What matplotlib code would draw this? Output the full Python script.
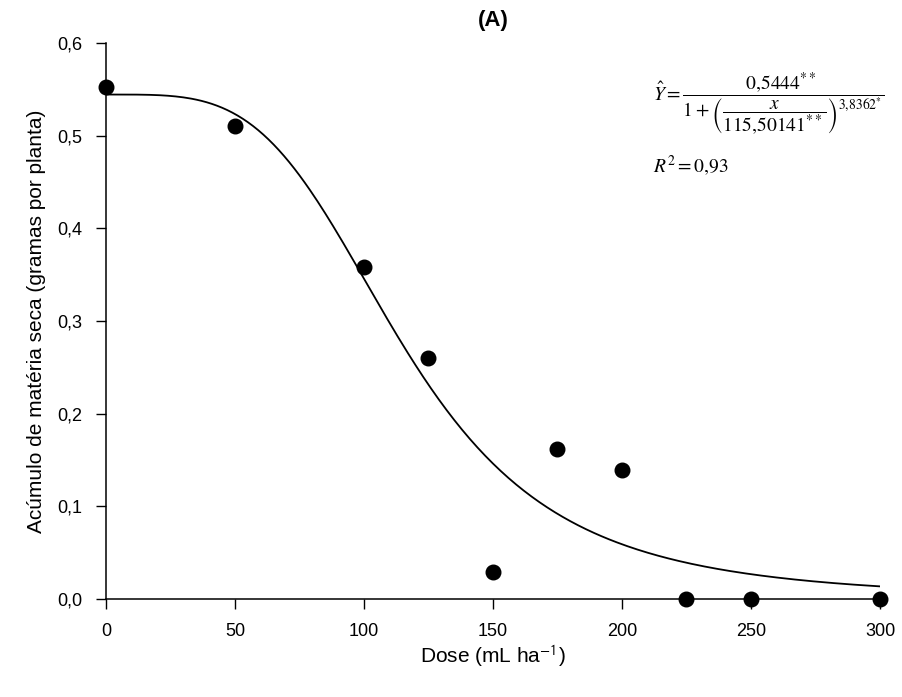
import numpy as np
import matplotlib.pyplot as plt

plt.rcParams['font.family'] = ['Liberation Sans', 'DejaVu Sans']
plt.rcParams['mathtext.fontset'] = 'stix'

dose = [0, 50, 100, 125, 150, 175, 200, 225, 250, 300]
massa = [0.553, 0.510, 0.358, 0.260, 0.029, 0.162, 0.139, 0.0, 0.0, 0.0]

# fitted log-logistic model shown on the chart
a = 0.5444
x50 = 115.50141
b = 3.8362

xs = np.linspace(0, 300, 301)
ys = a / (1 + (xs / x50) ** b)

fig = plt.figure(figsize=(9.02, 6.97), dpi=100)
ax = fig.add_axes([0.1175, 0.1406, 0.8581, 0.7977])

ax.plot(xs, ys, color='black', lw=1.3)
ax.scatter(dose, massa, s=110, color='black', zorder=3, clip_on=False)

ax.set_xlim(0, 300)
ax.set_ylim(0, 0.6)
ax.set_xticks([0, 50, 100, 150, 200, 250, 300])
ax.set_yticks([0, 0.1, 0.2, 0.3, 0.4, 0.5, 0.6])
ax.set_yticklabels(['0,0', '0,1', '0,2', '0,3', '0,4', '0,5', '0,6'])
ax.spines['top'].set_visible(False)
ax.spines['right'].set_visible(False)
ax.tick_params(direction='out', length=7, width=1, labelsize=13, pad=10)
for s in ['left', 'bottom']:
    ax.spines[s].set_linewidth(1.1)

ax.set_xlabel('Dose (mL ha$^{\\mathsf{-1}}$)', fontsize=15, labelpad=3)
ax.set_ylabel('Acúmulo de matéria seca (gramas por planta)', fontsize=15, labelpad=8)
ax.set_title('(A)', fontsize=16, fontweight='bold', pad=12)

eq = (r'$\hat{Y}=\dfrac{0{,}5444^{**}}'
      r'{1+\left(\dfrac{x}{115{,}50141^{**}}\right)^{3{,}8362^{*}}}$')
fig.text(0.724, 0.852, eq, fontsize=14, va='center', ha='left')
fig.text(0.724, 0.762, r'$R^{2}=0{,}93$', fontsize=14, va='center', ha='left')

fig.savefig('out.png', dpi=100)
